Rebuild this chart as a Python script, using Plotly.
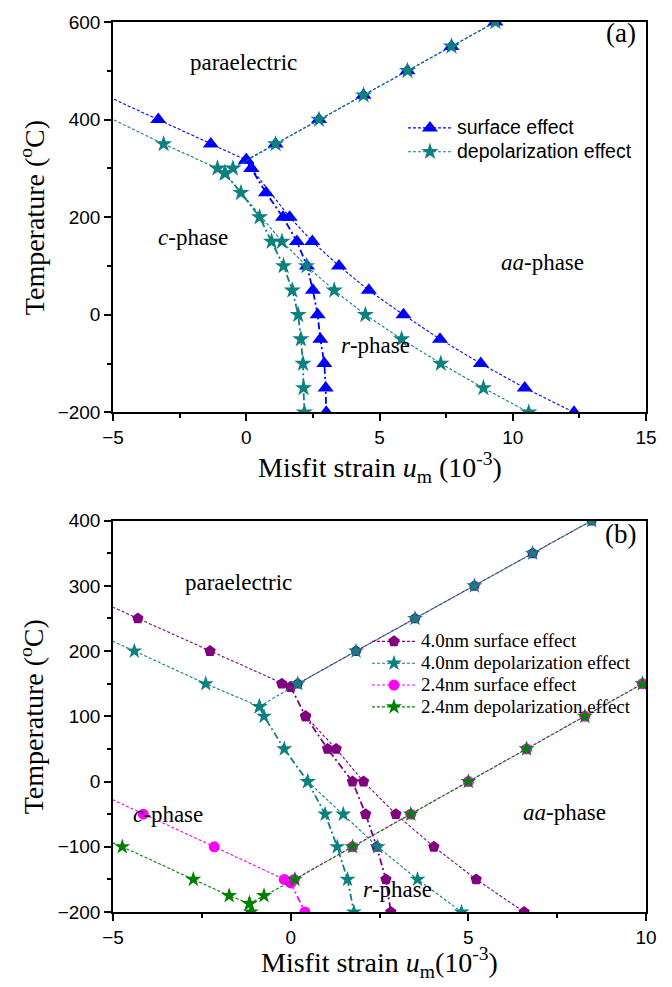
import plotly.graph_objects as go

# ---------------- Panel (a) data ----------------
# surface effect (blue triangles)
a_surf_pc_x = [-5.3, -3.3, -1.33, 0.0]
a_surf_pc_y = [450, 400, 350, 317]
a_surf_pa_x = [0.0, 1.1, 2.73, 4.4, 6.05, 7.7, 9.35]
a_surf_pa_y = [317, 350, 400, 450, 500, 550, 600]
a_surf_cr_x = [0.0, 0.19, 0.74, 1.38, 1.9, 2.28, 2.5, 2.68, 2.78, 2.93, 2.98, 3.0]
a_surf_cr_y = [317, 300, 250, 200, 150, 100, 50, 0, -50, -100, -150, -200]
a_surf_ra_x = [0.19, 1.63, 2.48, 3.48, 4.6, 5.9, 7.27, 8.8, 10.45, 12.3]
a_surf_ra_y = [300, 200, 150, 100, 50, 0, -50, -100, -150, -200]
# depolarization effect (teal stars)
a_dep_pc_x = [-5.3, -3.1, -1.08, -0.8]
a_dep_pc_y = [408, 350, 300, 290]
a_dep_pa_x = [-0.8, -0.5, 1.1, 2.73, 4.4, 6.05, 7.7, 9.35]
a_dep_pa_y = [290, 300, 350, 400, 450, 500, 550, 600]
a_dep_cr_x = [-0.8, -0.2, 0.5, 0.95, 1.4, 1.73, 1.95, 2.05, 2.13, 2.15, 2.18]
a_dep_cr_y = [290, 250, 200, 150, 100, 50, 0, -50, -100, -150, -200]
a_dep_ra_x = [-0.8, 1.34, 2.26, 3.3, 4.47, 5.83, 7.3, 8.9, 10.6]
a_dep_ra_y = [290, 150, 100, 50, 0, -50, -100, -150, -200]

# ---------------- Panel (b) data ----------------
# 4.0nm surface effect (purple pentagons)
b_s4_pc_x = [-5.4, -4.3, -2.27, -0.25, 0.0]
b_s4_pc_y = [277, 250, 200, 150, 145]
b_s4_pa_x = [0.0, 0.2, 1.84, 3.5, 5.17, 6.81, 8.47]
b_s4_pa_y = [145, 150, 200, 250, 300, 350, 400]
b_s4_cr_x = [0.0, 0.42, 1.04, 1.74, 2.11, 2.42, 2.68, 2.82]
b_s4_cr_y = [145, 100, 50, 0, -50, -100, -150, -200]
b_s4_ra_x = [0.42, 1.28, 2.05, 2.96, 4.03, 5.22, 6.57]
b_s4_ra_y = [100, 50, 0, -50, -100, -150, -200]
# 4.0nm depolarization effect (teal stars)
b_d4_pc_x = [-5.4, -4.4, -2.39, -0.88]
b_d4_pc_y = [225, 200, 150, 115]
b_d4_pa_x = [-0.88, 0.2, 1.84, 3.5, 5.17, 6.81, 8.47]
b_d4_pa_y = [115, 150, 200, 250, 300, 350, 400]
b_d4_cr_x = [-0.88, -0.75, -0.18, 0.48, 0.97, 1.31, 1.6, 1.78]
b_d4_cr_y = [115, 100, 50, 0, -50, -100, -150, -200]
b_d4_ra_x = [0.48, 1.48, 2.45, 3.57, 4.81]
b_d4_ra_y = [0, -50, -100, -150, -200]
# 2.4nm surface effect (magenta circles)
b_s2_pc_x = [-5.4, -4.15, -2.15, -0.18, 0.0]
b_s2_pc_y = [-18, -50, -100, -150, -155]
b_s2_pa_x = [0.0, 0.1, 1.74, 3.38, 5.0, 6.64, 8.28, 9.9]
b_s2_pa_y = [-155, -150, -100, -50, 0, 50, 100, 150]
b_s2_cr_x = [0.0, 0.4]
b_s2_cr_y = [-155, -200]
# 2.4nm depolarization effect (green stars)
b_d2_pc_x = [-5.4, -4.74, -2.74, -1.73, -1.16]
b_d2_pc_y = [-85, -100, -150, -175, -187]
b_d2_pa_x = [-1.16, -0.75, 0.12, 1.74, 3.38, 5.0, 6.64, 8.28, 9.9]
b_d2_pa_y = [-187, -175, -150, -100, -50, 0, 50, 100, 150]
b_d2_cr_x = [-1.16, -1.12]
b_d2_cr_y = [-187, -200]

SERIF = "Liberation Serif, Times New Roman, serif"
SANS = "Liberation Sans, Arial, sans-serif"

THIN = "3px,2px"
CR = "7px,3px,2px,3px"

fig = go.Figure()


def add_series(branches, color, symbol, msize, name, label, xa, ya, legend):
    for bx, by, kind in branches:
        if kind == "cr":
            line = dict(color=color, width=1.8, dash=CR)
        else:
            line = dict(color=color, width=1.1, dash=THIN)
        fig.add_trace(go.Scatter(
            x=bx, y=by, mode="lines+markers", name=name,
            line=line,
            marker=dict(symbol=symbol, size=msize, color=color, line=dict(width=0)),
            xaxis=xa, yaxis=ya, legend=legend, legendgroup=name,
            showlegend=False,
        ))
    # legend entry (dotted line + marker)
    fig.add_trace(go.Scatter(
        x=[None], y=[None], mode="lines+markers", name=label,
        line=dict(color=color, width=1.1, dash=THIN),
        marker=dict(symbol=symbol, size=msize, color=color, line=dict(width=0)),
        xaxis=xa, yaxis=ya, legend=legend, legendgroup=name, showlegend=True,
    ))


def big(txt, px):
    return '<span style="font-size:%spx">%s</span>' % (px, txt)


add_series([(a_surf_pc_x, a_surf_pc_y, "pc"), (a_surf_pa_x, a_surf_pa_y, "pa"),
            (a_surf_cr_x, a_surf_cr_y, "cr"), (a_surf_ra_x, a_surf_ra_y, "ra")],
           "#0000FF", "triangle-up", 14, "surface effect", big("surface effect", 19.5),
           "x", "y", "legend")
add_series([(a_dep_pc_x, a_dep_pc_y, "pc"), (a_dep_pa_x, a_dep_pa_y, "pa"),
            (a_dep_cr_x, a_dep_cr_y, "cr"), (a_dep_ra_x, a_dep_ra_y, "ra")],
           "#0E8080", "star", 13, "depolarization effect", big("depolarization effect", 19.5),
           "x", "y", "legend")

add_series([(b_s4_pc_x, b_s4_pc_y, "pc"), (b_s4_pa_x, b_s4_pa_y, "pa"),
            (b_s4_cr_x, b_s4_cr_y, "cr"), (b_s4_ra_x, b_s4_ra_y, "ra")],
           "#800080", "pentagon", 12, "4.0nm surface effect", big("4.0nm surface effect", 19),
           "x2", "y2", "legend2")
add_series([(b_d4_pc_x, b_d4_pc_y, "pc"), (b_d4_pa_x, b_d4_pa_y, "pa"),
            (b_d4_cr_x, b_d4_cr_y, "cr"), (b_d4_ra_x, b_d4_ra_y, "ra")],
           "#0E8080", "star", 12, "4.0nm depolarization effect", big("4.0nm depolarization effect", 19),
           "x2", "y2", "legend2")
add_series([(b_s2_pc_x, b_s2_pc_y, "pc"), (b_s2_pa_x, b_s2_pa_y, "pa"),
            (b_s2_cr_x, b_s2_cr_y, "cr")],
           "#FF00FF", "circle", 11, "2.4nm surface effect", big("2.4nm surface effect", 19),
           "x2", "y2", "legend2")
add_series([(b_d2_pc_x, b_d2_pc_y, "pc"), (b_d2_pa_x, b_d2_pa_y, "pa"),
            (b_d2_cr_x, b_d2_cr_y, "cr")],
           "#008000", "star", 12, "2.4nm depolarization effect", big("2.4nm depolarization effect", 19),
           "x2", "y2", "legend2")

tickfont = dict(family=SANS, size=19, color="black")
axis_common = dict(showline=True, linecolor="black", linewidth=1.5, mirror=True,
                   ticks="outside", ticklen=7, tickwidth=1.5, tickcolor="black",
                   showgrid=False, zeroline=False, tickfont=tickfont)
minor_common = dict(ticks="outside", ticklen=4, tickwidth=1.5, tickcolor="black", tick0=0)

fig.update_layout(
    width=672, height=987,
    margin=dict(l=113, r=26, t=16, b=75),
    paper_bgcolor="white", plot_bgcolor="white",
    xaxis=dict(domain=[0, 1], range=[-5, 15], dtick=5, tick0=0, anchor="y",
               minor=dict(dtick=2.5, **minor_common), **axis_common),
    yaxis=dict(domain=[0.5614, 1], range=[-200, 600], dtick=200, tick0=0, anchor="x",
               minor=dict(dtick=100, **minor_common), **axis_common),
    xaxis2=dict(domain=[0, 1], range=[-5, 10], dtick=5, tick0=0, anchor="y2",
                minor=dict(dtick=2.5, **minor_common), **axis_common),
    yaxis2=dict(domain=[0, 0.4397], range=[-200, 400], dtick=100, tick0=0, anchor="x2",
                minor=dict(dtick=50, **minor_common), **axis_common),
    legend=dict(x=0.544, y=0.90, xanchor="left", yanchor="top",
                bgcolor="rgba(0,0,0,0)", font=dict(family=SANS, size=16, color="black"),
                itemwidth=44, tracegroupgap=0),
    legend2=dict(x=0.4765, y=0.322, xanchor="left", yanchor="top",
                 bgcolor="rgba(0,0,0,0)", font=dict(family=SERIF, size=14.5, color="black"),
                 itemwidth=44, tracegroupgap=0),
    showlegend=True,
)

ann_font = dict(family=SERIF, size=23, color="black")
annotations = [
    dict(xref="x", yref="y", x=-0.1, y=516, text="paraelectric"),
    dict(xref="x", yref="y", x=-2.0, y=158, text="<i>c</i>-phase"),
    dict(xref="x", yref="y", x=11.1, y=107, text="<i>aa</i>-phase"),
    dict(xref="x", yref="y", x=4.85, y=-64, text="<i>r</i>-phase"),
    dict(xref="x2", yref="y2", x=-1.48, y=305, text="paraelectric"),
    dict(xref="x2", yref="y2", x=-3.45, y=-50, text="<i>c</i>-phase"),
    dict(xref="x2", yref="y2", x=7.7, y=-47, text="<i>aa</i>-phase"),
    dict(xref="x2", yref="y2", x=3.0, y=-166, text="<i>r</i>-phase"),
]
for a in annotations:
    a.update(showarrow=False, font=ann_font, xanchor="center", yanchor="middle")
    fig.add_annotation(**a)

lab_font = dict(family=SERIF, size=27, color="black")
fig.add_annotation(xref="x domain", yref="y domain", x=0.985, y=0.972, text="(a)",
                   showarrow=False, font=lab_font, xanchor="right", yanchor="middle")
fig.add_annotation(xref="x2 domain", yref="y2 domain", x=0.985, y=0.965, text="(b)",
                   showarrow=False, font=lab_font, xanchor="right", yanchor="middle")

title_font = dict(family=SERIF, size=28, color="black")
ytitle = "Temperature (<sup>o</sup>C)"
xtitle_a = "Misfit strain <i>u</i><sub>m</sub> (10<sup>-3</sup>)"
xtitle_b = "Misfit strain <i>u</i><sub>m</sub>(10<sup>-3</sup>)"
fig.add_annotation(xref="x domain", yref="y domain", x=-0.152, y=0.5, text=ytitle,
                   textangle=-90, showarrow=False, font=title_font,
                   xanchor="center", yanchor="middle")
fig.add_annotation(xref="x2 domain", yref="y2 domain", x=-0.152, y=0.5, text=ytitle,
                   textangle=-90, showarrow=False, font=title_font,
                   xanchor="center", yanchor="middle")
fig.add_annotation(xref="x domain", yref="y domain", x=0.5, y=-0.14, text=xtitle_a,
                   showarrow=False, font=title_font, xanchor="center", yanchor="middle")
fig.add_annotation(xref="x2 domain", yref="y2 domain", x=0.5, y=-0.13, text=xtitle_b,
                   showarrow=False, font=title_font, xanchor="center", yanchor="middle")

fig.write_html("out.html")
